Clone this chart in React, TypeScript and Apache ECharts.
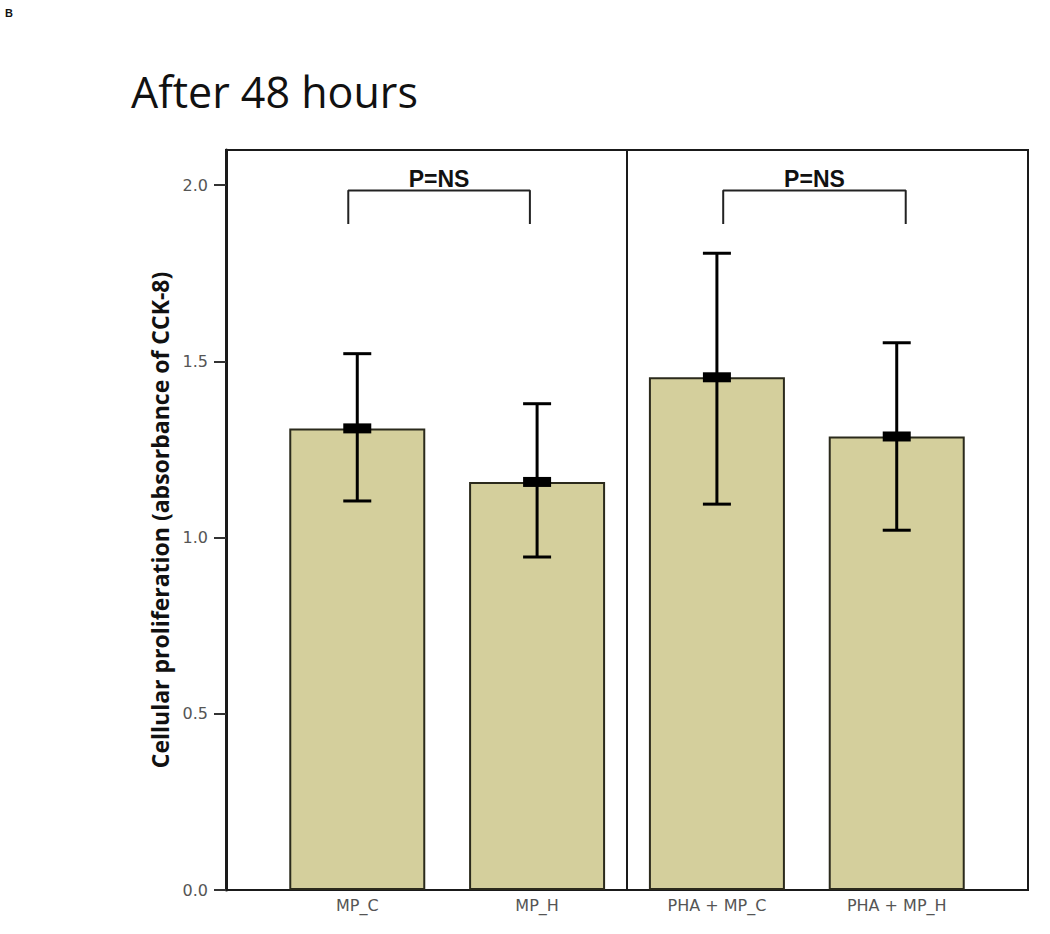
import React, { useEffect, useRef } from 'react';
import * as echarts from 'echarts';

const categories = ['MP_C', 'MP_H', 'PHA + MP_C', 'PHA + MP_H'];
const positions = [0, 1, 2, 3];
const means = [1.31, 1.158, 1.455, 1.287];
const upperErr = [1.522, 1.38, 1.807, 1.553];
const lowerErr = [1.104, 0.945, 1.095, 1.021];
const yTicks = [0, 0.5, 1.0, 1.5, 2.0];
const panelDivider = 1.5;
const bracketLeft = [-0.05, 2.035];
const bracketRight = [0.96, 3.05];
const bracketTop = 1.985;
const bracketBottom = 1.89;
const bracketLabels = ['P=NS', 'P=NS'];

export default function App() {
  const ref = useRef<HTMLDivElement>(null);
  useEffect(() => {
    if (!ref.current) return;
    const chart = echarts.init(ref.current, null, { renderer: 'svg' });
    const tickFont = { fontFamily: 'DejaVu Sans, sans-serif', fontSize: 16, color: '#555' };

    const bracketSeries = bracketLeft.map((l, i) => ({
      type: 'line',
      symbol: 'none',
      silent: true,
      lineStyle: { color: '#222', width: 2 },
      data: [
        [l, bracketBottom],
        [l, bracketTop],
        [bracketRight[i], bracketTop],
        [bracketRight[i], bracketBottom],
      ],
      z: 5,
    }));

    const option: any = {
      animation: false,
      backgroundColor: '#fff',
      title: [
        {
          text: 'After 48 hours',
          left: 126,
          top: 65,
          textStyle: { fontFamily: 'Open Sans, Noto Sans, sans-serif', fontSize: 43, fontWeight: 'normal', color: '#111' },
        },
        {
          text: 'B',
          left: 0,
          top: 2,
          textStyle: { fontFamily: 'Liberation Sans, Arial, sans-serif', fontSize: 11, fontWeight: 'bold', color: '#111' },
        },
      ],
      grid: {
        left: 226,
        right: 22,
        top: 150,
        bottom: 44,
        show: true,
        borderColor: '#1a1a1a',
        borderWidth: 2,
        backgroundColor: 'transparent',
      },
      xAxis: {
        type: 'value',
        min: -0.73,
        max: 3.73,
        splitLine: { show: false },
        axisTick: { show: false },
        axisLine: { show: true, onZero: false, lineStyle: { color: '#1a1a1a', width: 2 } },
        axisLabel: {
          ...tickFont,
          margin: 7,
          customValues: positions,
          formatter: (v: number) => {
            const idx = positions.findIndex((p) => Math.abs(p - v) < 1e-6);
            return idx >= 0 ? categories[idx] : '';
          },
        },
      },
      yAxis: {
        type: 'value',
        min: 0,
        max: 2.1,
        name: 'Cellular proliferation (absorbance of CCK-8)',
        nameLocation: 'middle',
        nameGap: 53,
        nameTextStyle: { fontFamily: 'Open Sans, Noto Sans, sans-serif', fontSize: 23, fontWeight: 'bold', color: '#111' },
        splitLine: { show: false },
        axisLine: { show: true, onZero: false, lineStyle: { color: '#1a1a1a', width: 3 } },
        axisTick: { show: true, length: 12, customValues: yTicks, lineStyle: { color: '#333', width: 2 } },
        axisLabel: {
          ...tickFont,
          margin: 18,
          customValues: yTicks,
          formatter: (v: number) => v.toFixed(1),
        },
      },
      series: [
        {
          type: 'bar',
          barWidth: 136,
          data: positions.map((p, i) => [p, means[i]]),
          itemStyle: { color: '#d4cf9c', borderColor: '#2b2a1c', borderWidth: 2 },
          markLine: {
            symbol: 'none',
            silent: true,
            label: { show: false },
            lineStyle: { color: '#1a1a1a', width: 2, type: 'solid' },
            data: [{ xAxis: panelDivider }],
          },
        },
        {
          type: 'custom',
          data: positions.map((p, i) => [p, lowerErr[i], upperErr[i], means[i]]),
          z: 10,
          renderItem: (params: any, api: any) => {
            const x = api.value(0);
            const top = api.coord([x, api.value(2)]);
            const bot = api.coord([x, api.value(1)]);
            const mid = api.coord([x, api.value(3)]);
            const cap = 14;
            const st = { stroke: '#000', lineWidth: 3 };
            return {
              type: 'group',
              children: [
                { type: 'line', shape: { x1: top[0], y1: top[1], x2: bot[0], y2: bot[1] }, style: st },
                { type: 'line', shape: { x1: top[0] - cap, y1: top[1], x2: top[0] + cap, y2: top[1] }, style: st },
                { type: 'line', shape: { x1: bot[0] - cap, y1: bot[1], x2: bot[0] + cap, y2: bot[1] }, style: st },
                { type: 'rect', shape: { x: mid[0] - 14, y: mid[1] - 5, width: 28, height: 10 }, style: { fill: '#000' } },
              ],
            };
          },
        },
        ...bracketSeries,
        {
          type: 'scatter',
          symbolSize: 0,
          silent: true,
          itemStyle: { opacity: 1 },
          data: bracketLeft.map((l, i) => ({ value: [(l + bracketRight[i]) / 2, bracketTop], name: bracketLabels[i] })),
          label: {
            show: true,
            position: 'top',
            distance: 0,
            formatter: (p: any) => p.name,
            fontFamily: 'Liberation Sans, Arial, sans-serif',
            fontSize: 23,
            fontWeight: 'bold',
            color: '#111',
          },
          z: 6,
        },
      ],
    };
    chart.setOption(option);
    return () => chart.dispose();
  }, []);
  return <div ref={ref} style={{ position: 'fixed', left: 0, top: 0, width: 1050, height: 934 }} />;
}
